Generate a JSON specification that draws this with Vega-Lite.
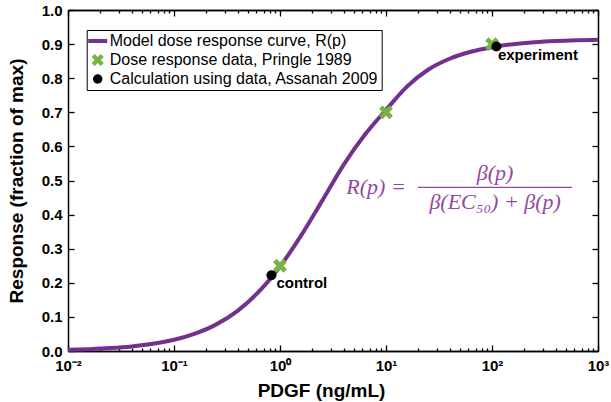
{
  "$schema": "https://vega.github.io/schema/vega-lite/v6.json",
  "width": 530,
  "height": 341,
  "autosize": "none",
  "padding": {"left": 68, "top": 10, "right": 13, "bottom": 51},
  "background": "white",
  "config": {
    "view": {"stroke": null},
    "font": "Liberation Sans",
    "axis": {
      "grid": false,
      "domainColor": "black",
      "domainWidth": 1.5,
      "tickColor": "black",
      "tickWidth": 1.3,
      "labelFont": "Liberation Sans",
      "labelFontWeight": "bold",
      "labelFontSize": 15,
      "labelColor": "black",
      "titleFont": "Liberation Sans",
      "titleFontWeight": "bold",
      "titleFontSize": 19,
      "titleColor": "black"
    }
  },
  "datasets": {
    "curve": [
      {"p": 0.01, "r": 0.0034},
      {"p": 0.0158, "r": 0.0054},
      {"p": 0.0251, "r": 0.0085},
      {"p": 0.0398, "r": 0.0133},
      {"p": 0.0631, "r": 0.021},
      {"p": 0.1, "r": 0.0328},
      {"p": 0.158, "r": 0.0509},
      {"p": 0.251, "r": 0.0781},
      {"p": 0.398, "r": 0.1179},
      {"p": 0.631, "r": 0.1738},
      {"p": 1, "r": 0.2478},
      {"p": 1.585, "r": 0.3391},
      {"p": 2.512, "r": 0.4417},
      {"p": 3.981, "r": 0.5459},
      {"p": 6.31, "r": 0.634},
      {"p": 10, "r": 0.707},
      {"p": 15.85, "r": 0.776},
      {"p": 25.12, "r": 0.8255},
      {"p": 39.81, "r": 0.8571},
      {"p": 63.1, "r": 0.8776},
      {"p": 100, "r": 0.891},
      {"p": 158.5, "r": 0.8997},
      {"p": 251.2, "r": 0.9053},
      {"p": 398.1, "r": 0.9089},
      {"p": 631, "r": 0.9111},
      {"p": 1000, "r": 0.9126}
    ],
    "pringle": [
      {"p": 1, "r": 0.25, "series": "Dose response data, Pringle 1989"},
      {"p": 10, "r": 0.70, "series": "Dose response data, Pringle 1989"},
      {"p": 100, "r": 0.90, "series": "Dose response data, Pringle 1989"}
    ],
    "assanah": [
      {"p": 0.83, "r": 0.222, "series": "Calculation using data, Assanah 2009"},
      {"p": 110, "r": 0.893, "series": "Calculation using data, Assanah 2009"}
    ],
    "control": [{"p": 0.83, "r": 0.222, "label": "control"}],
    "experiment": [{"p": 110, "r": 0.893, "label": "experiment"}],
    "eq": [
      {"p": 8.05, "r": 0.481, "t": "R(p) ="},
      {"p": 106.7, "r": 0.522, "t": "β(p)"},
      {"p": 107, "r": 0.437, "t": "β(EC₅₀) + β(p)"}
    ],
    "bar": [{"p": 20, "p2": 569, "r": 0.48}]
  },
  "resolve": {"axis": {"x": "independent", "y": "independent"}},
  "layer": [
    {
      "data": {"name": "curve"},
      "mark": {"type": "line", "color": "#72318f", "strokeWidth": 4, "interpolate": "monotone"},
      "encoding": {
        "x": {
          "field": "p", "type": "quantitative",
          "scale": {"type": "log", "domain": [0.01, 1000], "nice": false},
          "axis": {
            "orient": "bottom",
            "values": [0.01, 0.1, 1, 10, 100, 1000],
            "tickSize": -6,
            "labelPadding": 13,
            "labelExpr": "round(log(datum.value)/LN10) == -2 ? '10⁻²' : round(log(datum.value)/LN10) == -1 ? '10⁻¹' : round(log(datum.value)/LN10) == 0 ? '10⁰' : round(log(datum.value)/LN10) == 1 ? '10¹' : round(log(datum.value)/LN10) == 2 ? '10²' : '10³'",
            "labelFlush": false,
            "labelOverlap": false,
            "title": "PDGF (ng/mL)",
            "titleX": 253,
            "titleY": 45,
            "titleAlign": "center",
            "titleBaseline": "alphabetic"
          }
        },
        "y": {
          "field": "r", "type": "quantitative",
          "scale": {"domain": [0, 1], "nice": false},
          "axis": {
            "orient": "left",
            "values": [0, 0.1, 0.2, 0.3, 0.4, 0.5, 0.6, 0.7, 0.8, 0.9, 1.0],
            "format": ".1f",
            "tickSize": -6,
            "labelPadding": 12,
            "labelFlush": false,
            "labelOverlap": false,
            "title": "Response (fraction of max)",
            "titleX": -46,
            "titleY": 170.5,
            "titleAngle": 270,
            "titleAlign": "center",
            "titleBaseline": "alphabetic"
          }
        }
      }
    },
    {
      "data": {"name": "pringle"},
      "mark": {"type": "point", "filled": true, "opacity": 1, "size": 190},
      "encoding": {
        "x": {
          "field": "p", "type": "quantitative",
          "axis": {
            "orient": "bottom",
            "values": [0.02, 0.03, 0.04, 0.05, 0.06, 0.07, 0.08, 0.09, 0.2, 0.3, 0.4, 0.5, 0.6, 0.7, 0.8, 0.9, 2, 3, 4, 5, 6, 7, 8, 9, 20, 30, 40, 50, 60, 70, 80, 90, 200, 300, 400, 500, 600, 700, 800, 900],
            "tickSize": -3,
            "labels": false,
            "title": null
          }
        },
        "y": {
          "field": "r", "type": "quantitative",
          "axis": {
            "orient": "right",
            "values": [0, 0.1, 0.2, 0.3, 0.4, 0.5, 0.6, 0.7, 0.8, 0.9, 1.0],
            "tickSize": -6,
            "labels": false,
            "title": null
          }
        },
        "color": {
          "field": "series", "type": "nominal",
          "scale": {
            "domain": ["Model dose response curve, R(p)", "Dose response data, Pringle 1989", "Calculation using data, Assanah 2009"],
            "range": ["#72318f", "#78b144", "#000000"]
          },
          "legend": {
            "orient": "none",
            "legendX": 18.7,
            "legendY": 20,
            "title": null,
            "direction": "vertical",
            "padding": 3,
            "strokeColor": "black",
            "fillColor": "white",
            "labelFont": "Liberation Sans",
            "labelFontSize": 16,
            "labelFontWeight": "normal",
            "labelColor": "black",
            "labelOffset": 4,
            "labelLimit": 400,
            "rowPadding": 3,
            "symbolSize": 361,
            "symbolOpacity": 1,
            "encode": {
              "symbols": {
                "update": {
                  "stroke": {"signal": "datum.value === 'Model dose response curve, R(p)' ? '#72318f' : 'transparent'"},
                  "strokeWidth": {"signal": "datum.value === 'Model dose response curve, R(p)' ? 4 : 0"},
                  "size": {"signal": "datum.value === 'Model dose response curve, R(p)' ? 361 : datum.value === 'Dose response data, Pringle 1989' ? 150 : 90"}
                }
              }
            }
          }
        },
        "shape": {
          "field": "series", "type": "nominal",
          "scale": {
            "domain": ["Model dose response curve, R(p)", "Dose response data, Pringle 1989", "Calculation using data, Assanah 2009"],
            "range": ["stroke", "M-1,-0.5L-0.5,-1L0,-0.5L0.5,-1L1,-0.5L0.5,0L1,0.5L0.5,1L0,0.5L-0.5,1L-1,0.5L-0.5,0Z", "circle"]
          },
          "legend": {
            "orient": "none",
            "legendX": 18.7,
            "legendY": 20,
            "title": null
          }
        }
      }
    },
    {
      "data": {"name": "assanah"},
      "mark": {"type": "point", "filled": true, "opacity": 1, "size": 100},
      "encoding": {
        "x": {"field": "p", "type": "quantitative", "axis": null},
        "y": {"field": "r", "type": "quantitative", "axis": null},
        "color": {"field": "series", "type": "nominal", "legend": null},
        "shape": {"field": "series", "type": "nominal", "legend": null}
      }
    },
    {
      "data": {"name": "control"},
      "mark": {"type": "text", "align": "left", "baseline": "middle", "dx": 5, "dy": 8, "font": "Liberation Sans", "fontWeight": "bold", "fontSize": 15, "color": "black"},
      "encoding": {
        "x": {
          "field": "p", "type": "quantitative",
          "axis": {
            "orient": "top",
            "values": [0.01, 0.1, 1, 10, 100, 1000],
            "tickSize": -6,
            "labels": false,
            "title": null
          }
        },
        "y": {"field": "r", "type": "quantitative", "axis": null},
        "text": {"field": "label"}
      }
    },
    {
      "data": {"name": "experiment"},
      "mark": {"type": "text", "align": "left", "baseline": "middle", "dx": 1.5, "dy": 8.5, "font": "Liberation Sans", "fontWeight": "bold", "fontSize": 15, "color": "black"},
      "encoding": {
        "x": {
          "field": "p", "type": "quantitative",
          "axis": {
            "orient": "top",
            "values": [0.02, 0.03, 0.04, 0.05, 0.06, 0.07, 0.08, 0.09, 0.2, 0.3, 0.4, 0.5, 0.6, 0.7, 0.8, 0.9, 2, 3, 4, 5, 6, 7, 8, 9, 20, 30, 40, 50, 60, 70, 80, 90, 200, 300, 400, 500, 600, 700, 800, 900],
            "tickSize": -3,
            "labels": false,
            "title": null
          }
        },
        "y": {"field": "r", "type": "quantitative", "axis": null},
        "text": {"field": "label"}
      }
    },
    {
      "data": {"name": "eq"},
      "mark": {"type": "text", "align": "center", "baseline": "middle", "font": "Liberation Serif", "fontStyle": "italic", "fontSize": 22, "color": "#93479f"},
      "encoding": {
        "x": {"field": "p", "type": "quantitative", "axis": null},
        "y": {"field": "r", "type": "quantitative", "axis": null},
        "text": {"field": "t"}
      }
    },
    {
      "data": {"name": "bar"},
      "mark": {"type": "rule", "color": "#93479f", "strokeWidth": 1.2},
      "encoding": {
        "x": {"field": "p", "type": "quantitative", "axis": null},
        "x2": {"field": "p2"},
        "y": {"field": "r", "type": "quantitative", "axis": null}
      }
    }
  ]
}
